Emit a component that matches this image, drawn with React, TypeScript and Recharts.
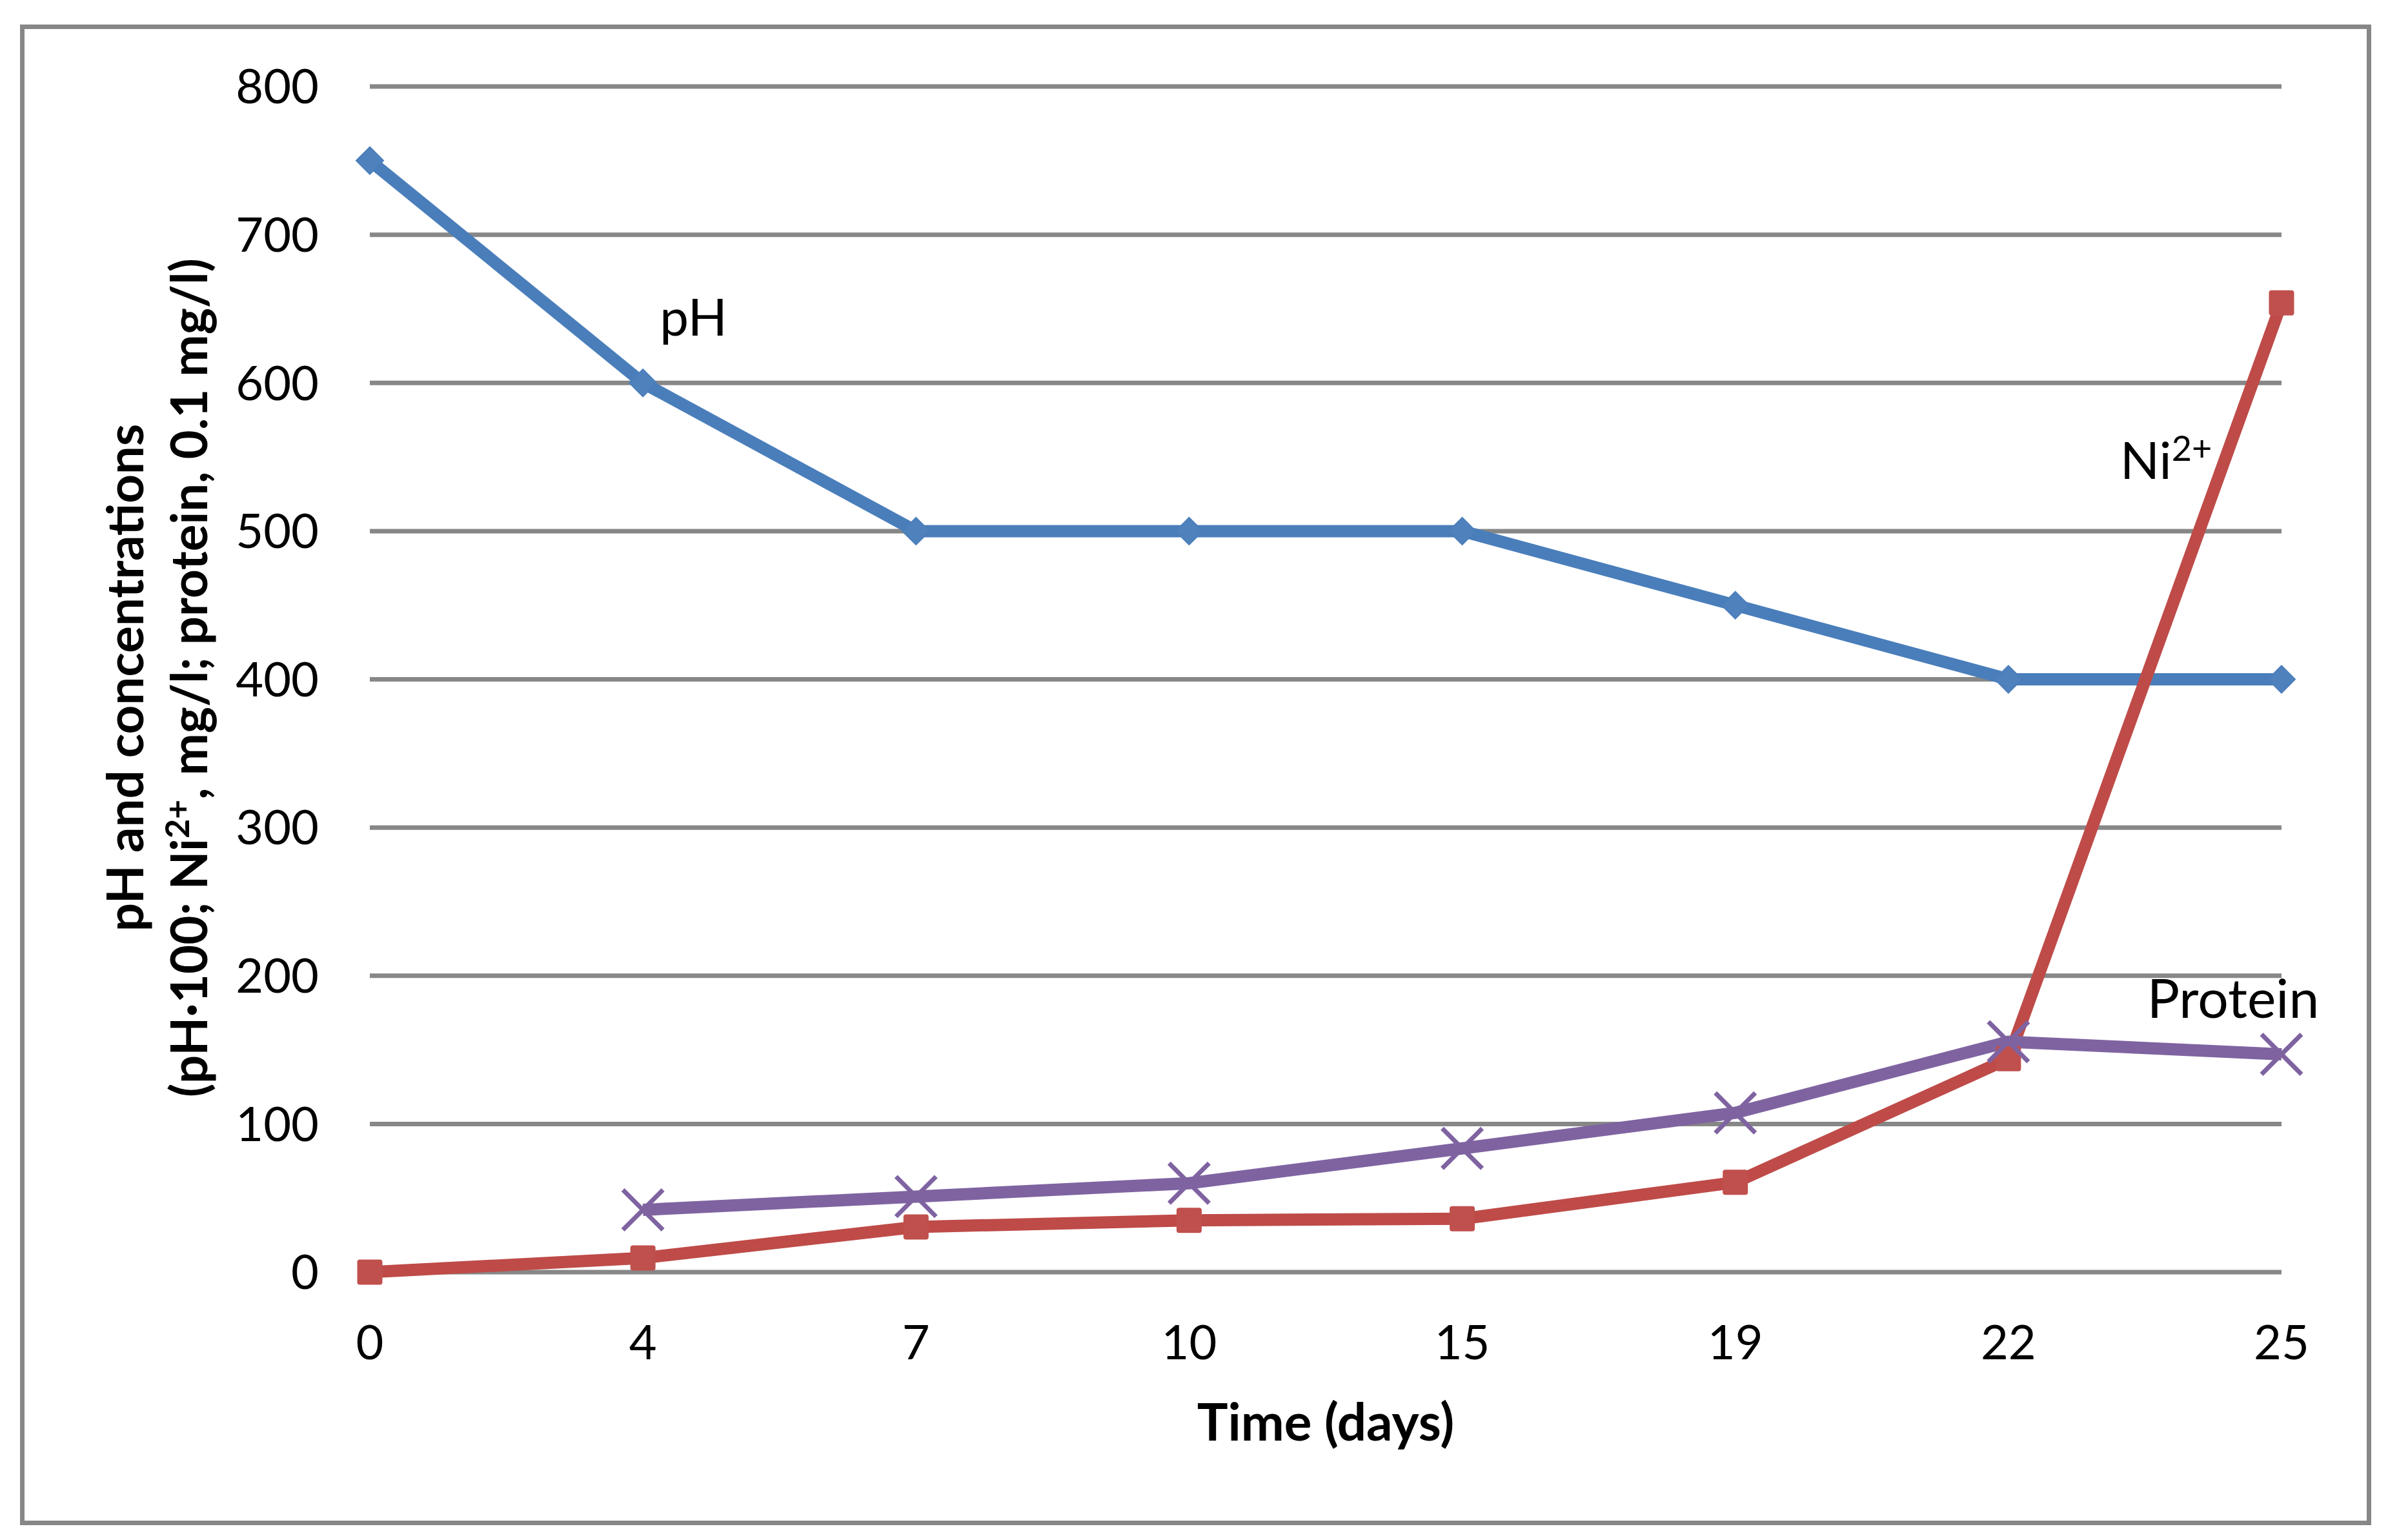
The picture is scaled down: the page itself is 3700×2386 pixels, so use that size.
import React from 'react'
import { LineChart, Line, XAxis, YAxis, CartesianGrid, LabelList } from 'recharts'

// values
const days = ['0', '4', '7', '10', '15', '19', '22', '25']
const phValues = [750, 600, 500, 500, 500, 450, 400, 400]
const nickelValues = [0, 9.6, 30.5, 35, 36, 60.6, 144, 654]
const proteinValues = [null, 42, 51, 60, 83.5, 107.5, 155.5, 147]
const yTicks = [0, 100, 200, 300, 400, 500, 600, 700, 800]

const chartData = days.map((d, i) => ({
  day: d,
  ph: phValues[i],
  nickel: nickelValues[i],
  protein: proteinValues[i],
}))

const FONT = 'Lato, "Open Sans", sans-serif'
const GRID = '#878787'

function Diamond(props: any) {
  const { cx, cy } = props
  if (cx == null || cy == null) return <g />
  const r = 21
  return <path d={`M${cx},${cy - r}L${cx + r},${cy}L${cx},${cy + r}L${cx - r},${cy}Z`} fill="#4F81BD" stroke="#4A7EBB" strokeWidth={2} />
}

function Square(props: any) {
  const { cx, cy } = props
  if (cx == null || cy == null) return <g />
  return <rect x={cx - 19.5} y={cy - 19.5} width={39} height={39} rx={4} fill="#C0504D" />
}

function Cross(props: any) {
  const { cx, cy } = props
  if (cx == null || cy == null) return <g />
  const r = 31
  return (
    <g stroke="#7F63A1" strokeWidth={7}>
      <line x1={cx - r} y1={cy - r} x2={cx + r} y2={cy + r} />
      <line x1={cx - r} y1={cy + r} x2={cx + r} y2={cy - r} />
    </g>
  )
}

// annotation next to one point of a series
const seriesLabel = (index: number, dx: number, dy: number, anchor: string, children: React.ReactNode, size = 80) =>
  (p: any) => {
    if (p.index !== index) return null
    const x = p.x ?? p.viewBox?.x
    const y = p.y ?? p.viewBox?.y
    return (
      <text x={x + dx} y={y + dy} textAnchor={anchor} fontFamily={FONT} fontSize={size} fill="#000">
        {children}
      </text>
    )
  }

function XTitle() {
  return (
    <text x={2054} y={2232} textAnchor="middle" fontFamily={FONT} fontSize={80} fontWeight="bold" fill="#000">
      Time (days)
    </text>
  )
}

function YTitle() {
  const cy = 1050
  return (
    <g fontFamily={FONT} fontSize={78} fontWeight="bold" fill="#000">
      <text x={222} y={cy} textAnchor="middle" transform={`rotate(-90, 222, ${cy})`}>
        pH and concentrations
      </text>
      <text x={321} y={cy} textAnchor="middle" transform={`rotate(-90, 321, ${cy})`}>
        (pH·100; Ni<tspan dy={-28} fontSize={52}>2+</tspan><tspan dy={28}>, mg/l; protein, 0.1 mg/l)</tspan>
      </text>
    </g>
  )
}

export default function App() {
  return (
    <div style={{ position: 'absolute', left: 0, top: 0, width: 3700, height: 2386, background: '#fff' }}>
      <div
        style={{
          position: 'absolute', left: 31, top: 38, width: 3643, height: 2325,
          border: `7px solid ${GRID}`, boxSizing: 'border-box',
        }}
      />
      <div style={{ position: 'absolute', left: 0, top: 0 }}>
        <LineChart width={3700} height={2386} data={chartData} margin={{ top: 134, right: 165, left: 0, bottom: 0 }}>
          <CartesianGrid vertical={false} stroke={GRID} strokeWidth={7} />
          <XAxis
            dataKey="day"
            height={415}
            axisLine={false}
            tickLine={false}
            tickSize={0}
            tickMargin={82}
            tick={{ fontSize: 74, fill: '#000', fontFamily: FONT }}
            label={<XTitle />}
          />
          <YAxis
            width={573}
            domain={[0, 800]}
            ticks={yTicks}
            axisLine={false}
            tickLine={false}
            tickSize={0}
            tickMargin={79}
            tick={{ fontSize: 74, fill: '#000', fontFamily: FONT }}
            label={<YTitle />}
          />
          <Line dataKey="ph" stroke="#4A7EBB" strokeWidth={19} dot={<Diamond />} activeDot={false} isAnimationActive={false}>
            <LabelList dataKey="ph" content={seriesLabel(1, 26, -73, 'start', 'pH')} />
          </Line>
          <Line dataKey="nickel" stroke="#BE4B48" strokeWidth={19} dot={<Square />} activeDot={false} isAnimationActive={false}>
            <LabelList
              dataKey="nickel"
              content={seriesLabel(7, -250, 273, 'start', <>Ni<tspan dy={-28} fontSize={54}>2+</tspan></>)}
            />
          </Line>
          <Line dataKey="protein" stroke="#7F63A1" strokeWidth={19} dot={<Cross />} activeDot={false} isAnimationActive={false}>
            <LabelList dataKey="protein" content={seriesLabel(7, -75, -56, 'middle', 'Protein', 84)} />
          </Line>
        </LineChart>
      </div>
    </div>
  )
}
